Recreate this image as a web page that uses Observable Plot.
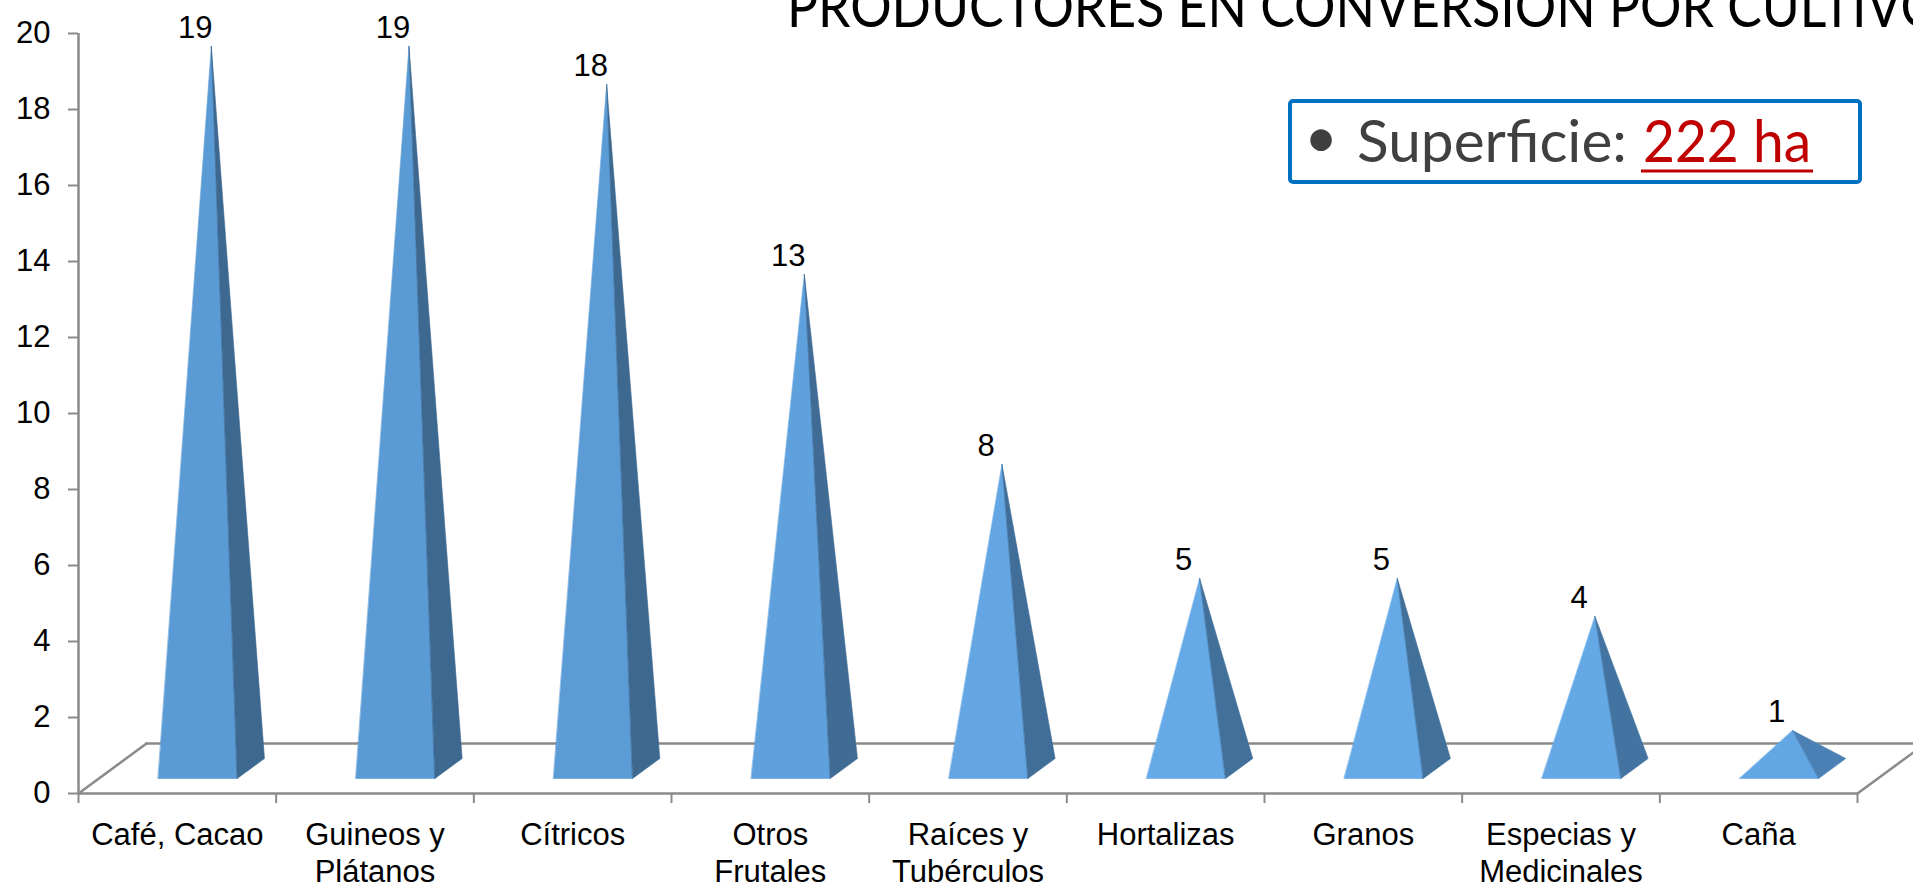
<!DOCTYPE html>
<html>
<head>
<meta charset="utf-8">
<script src="https://cdn.jsdelivr.net/npm/d3@7"></script>
<script src="https://cdn.jsdelivr.net/npm/@observablehq/plot@0.6"></script>
<style>
  html, body { margin: 0; padding: 0; background: #fff; overflow: hidden; }
  #chart svg { overflow: hidden; display: block; }
</style>
</head>
<body>
<div id="chart"></div>
<script>
// ---- data ----
const categories = ["Café, Cacao", "Guineos y\nPlátanos", "Cítricos", "Otros\nFrutales", "Raíces y\nTubérculos", "Hortalizas", "Granos", "Especias y\nMedicinales", "Caña"];
const productores = [19, 19, 18, 13, 8, 5, 5, 4, 1];
const yTicks = [0, 2, 4, 6, 8, 10, 12, 14, 16, 18, 20];
const titleText = "PRODUCTORES EN CONVERSION POR CULTIVO";
const boxLabel = "Superficie:";
const boxValue = "222 ha";

// ---- layout / style ----
const W = 1913, H = 882;
const mL = 78, mR = 56, mT = 33, mB = 89;
const bandPx = (W - mL - mR) / categories.length;
const unitPx = (H - mT - mB) / 20;
const dxu = 68 / bandPx;   // floor depth, x (data units)
const dyu = 50 / unitPx;   // floor depth, y (data units)
const half = 0.2, dFront = 0.3, dBack = 0.7;
const gray = "#8a8a8a";
const frontColor = d3.scaleLinear().domain([1, 5, 19]).range(["#62a6e4", "#65a9e7", "#5b9bd5"]);
const sideColor = d3.scaleLinear().domain([1, 5, 19]).range(["#4a80b3", "#41709b", "#3d6890"]);

const n = categories.length;
const idx = d3.range(n);
const x0 = -0.5, x1 = n - 0.5;

// floor outline segments
const floor = [
  {id: "back", x: x0 + dxu, y: dyu}, {id: "back", x: x1 + dxu, y: dyu},
  {id: "left", x: x0, y: 0}, {id: "left", x: x0 + dxu, y: dyu},
  {id: "right", x: x1, y: 0}, {id: "right", x: x1 + dxu, y: dyu},
  {id: "front", x: x0, y: 0}, {id: "front", x: x1, y: 0}
];

// pyramid faces
const faces = [];
productores.forEach((v, i) => {
  const FL = [i - half + dFront * dxu, dFront * dyu];
  const FR = [i + half + dFront * dxu, dFront * dyu];
  const BR = [i + half + dBack * dxu, dBack * dyu];
  const AP = [i + 0.5 * dxu, 0.5 * dyu + v];
  [[FL, FR, AP], [FR, BR, AP]].forEach((pts, f) => {
    const c = f ? sideColor(v) : frontColor(v);
    pts.forEach(p => faces.push({id: i + "-" + f, x: p[0], y: p[1], c}));
  });
});

const labels = productores.map((v, i) => ({x: i + 0.5 * dxu, y: v + 0.5 * dyu, t: String(v)}));

const overlay = () => {
  const g = d3.create("svg:g").attr("text-anchor", "start");
  g.append("text")
    .attr("x", 787).attr("y", 27).attr("text-anchor", "start")
    .attr("textLength", 1155).attr("lengthAdjust", "spacingAndGlyphs")
    .attr("font-family", "Lato, 'Open Sans', sans-serif").attr("font-size", 58)
    .attr("fill", "#000").text(titleText);
  g.append("rect")
    .attr("x", 1290).attr("y", 101).attr("width", 570).attr("height", 81)
    .attr("rx", 3).attr("fill", "#fff").attr("stroke", "#0070c0").attr("stroke-width", 4);
  g.append("text")
    .attr("x", 1321).attr("y", 158).attr("text-anchor", "middle")
    .attr("font-family", "Lato, sans-serif").attr("font-size", 58)
    .attr("fill", "#404040").text("•");
  g.append("text")
    .attr("x", 1357).attr("y", 162).attr("text-anchor", "start")
    .attr("textLength", 270).attr("lengthAdjust", "spacingAndGlyphs")
    .attr("font-family", "Lato, sans-serif").attr("font-size", 59)
    .attr("fill", "#404040").text(boxLabel);
  g.append("text")
    .attr("x", 1643).attr("y", 162).attr("text-anchor", "start")
    .attr("textLength", 168).attr("lengthAdjust", "spacingAndGlyphs")
    .attr("font-family", "Lato, sans-serif").attr("font-size", 59)
    .attr("fill", "#c00000").text(boxValue);
  g.append("rect")
    .attr("x", 1641).attr("y", 169.5).attr("width", 172).attr("height", 3)
    .attr("fill", "#c00000");
  return g.node();
};

const chart = Plot.plot({
  width: W, height: H,
  marginLeft: mL, marginRight: mR, marginTop: mT, marginBottom: mB,
  style: {fontFamily: "'Liberation Sans', Arial, sans-serif", fontSize: "31px", color: "#000", background: "#fff"},
  x: {domain: [x0, x1], axis: null},
  y: {domain: [0, 20], axis: null},
  marks: [
    Plot.line(floor, {x: "x", y: "y", z: "id", stroke: gray, strokeWidth: 2.5}),
    Plot.ruleX([x0], {y1: 0, y2: 20, stroke: gray, strokeWidth: 2.5}),
    Plot.line(faces, {x: "x", y: "y", z: "id", fill: "c", stroke: "c", strokeWidth: 0.6, curve: "linear-closed"}),
    Plot.text(labels, {x: "x", y: "y", text: "t", dx: -16, dy: -18, fill: "#000", fontSize: 31}),
    Plot.axisY({ticks: yTicks, tickSize: 10, tickPadding: 18, stroke: gray, strokeWidth: 2, fill: "#000", fontSize: 31, label: null}),
    Plot.axisX({ticks: d3.range(n + 1).map(k => k - 0.5), tickSize: 10, tickFormat: () => "", stroke: gray, strokeWidth: 2, label: null}),
    Plot.axisX({ticks: idx, tickSize: 0, tickPadding: 25, tickFormat: i => categories[i], fill: "#000", fontSize: 31, lineHeight: 1.2, label: null}),
    overlay
  ]
});
document.getElementById("chart").appendChild(chart);
</script>
</body>
</html>
